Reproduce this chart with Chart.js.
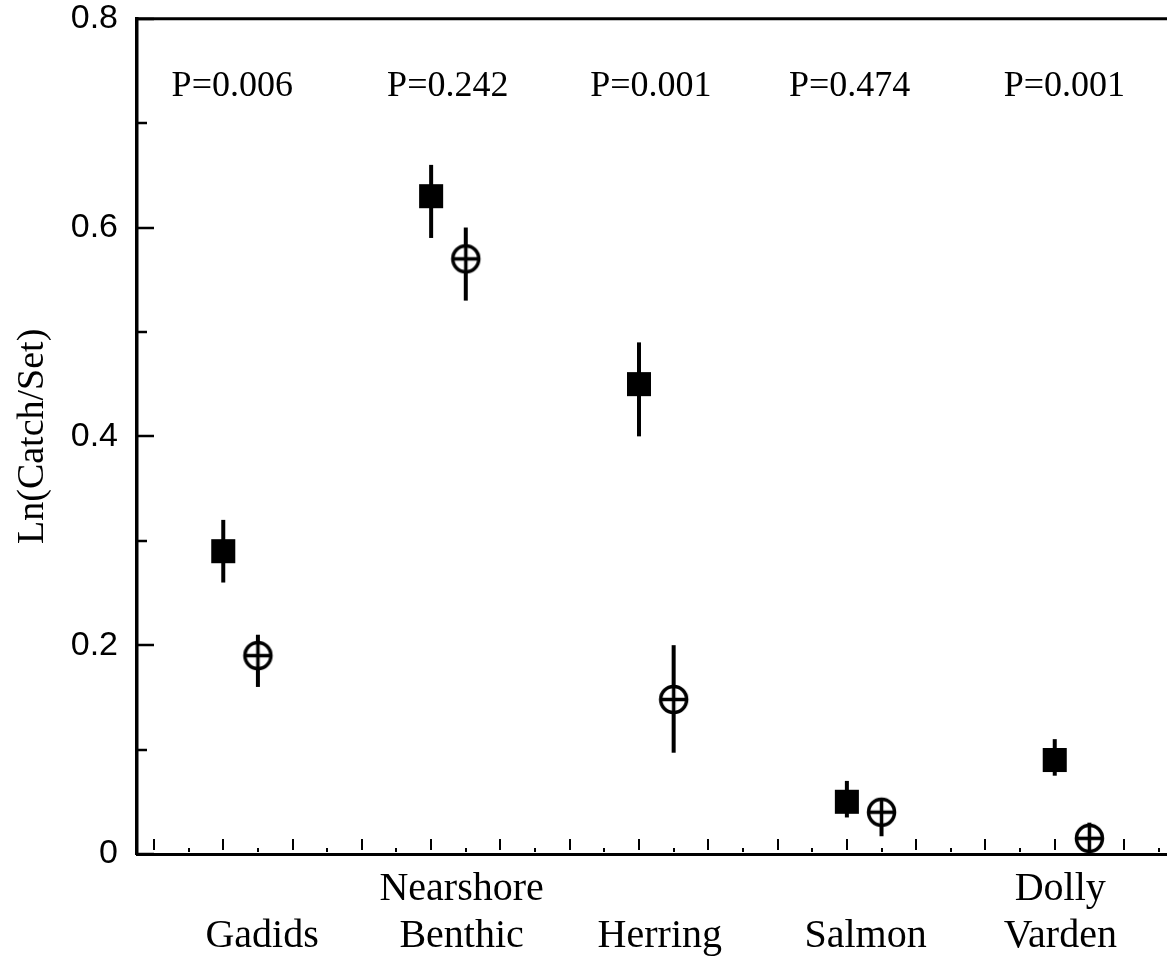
<!DOCTYPE html>
<html>
<head>
<meta charset="utf-8">
<script src="https://cdn.jsdelivr.net/npm/chart.js@4.4.1/dist/chart.umd.min.js"></script>
<style>
  html, body { margin: 0; padding: 0; background: #fff; }
  #wrap { width: 1167px; height: 968px; }
</style>
</head>
<body>
<div id="wrap"><canvas id="catch-chart" width="1167" height="968"></canvas></div>
<script>
/* ===== DATA ===== */
const categories = [['Gadids'], ['Nearshore', 'Benthic'], ['Herring'], ['Salmon'], ['Dolly', 'Varden']];
const catPos     = [1, 4, 7, 10, 13];
const pLabels    = ['P=0.006', 'P=0.242', 'P=0.001', 'P=0.474', 'P=0.001'];

// filled squares
const squareMean = [0.29, 0.63, 0.45, 0.05, 0.09];
const squareLow  = [0.26, 0.59, 0.40, 0.035, 0.075];
const squareHigh = [0.32, 0.66, 0.49, 0.07, 0.11];

// open circles with cross
const circleMean = [0.19, 0.57, 0.148, 0.04, 0.015];
const circleLow  = [0.16, 0.53, 0.097, 0.017, 0.0];
const circleHigh = [0.21, 0.60, 0.20, 0.05, 0.03];

const yTicks  = [0, 0.1, 0.2, 0.3, 0.4, 0.5, 0.6, 0.7, 0.8];
const xTicks  = [0, 0.5, 1, 1.5, 2, 2.5, 3, 3.5, 4, 4.5, 5, 5.5, 6, 6.5, 7, 7.5, 8, 8.5, 9, 9.5, 10, 10.5, 11, 11.5, 12, 12.5, 13, 13.5, 14, 14.5];

/* ===== TEXT LAYOUT ===== */
// horizontal nudges (x units) of the hand-placed texts relative to each category
const pShift   = [0.13, 0.24, 0.17, 0.04, 0.14];
const catShift = [0.56, 0.44, 0.30, 0.27, 0.08];

const SERIF = "'Liberation Serif', 'Times New Roman', serif";
const SANS  = "'Liberation Sans', Arial, sans-serif";

/* ===== MARKER ===== */
function makeCircleMarker(r, lw) {
  const size = Math.ceil((r + lw) * 2);
  const c = document.createElement('canvas');
  c.width = c.height = size;
  const g = c.getContext('2d');
  const m = size / 2;
  g.lineWidth = lw;
  g.strokeStyle = '#000';
  g.fillStyle = '#fff';
  g.beginPath(); g.arc(m, m, r, 0, Math.PI * 2); g.fill(); g.stroke();
  g.beginPath();
  g.moveTo(m - r, m); g.lineTo(m + r, m);
  g.moveTo(m, m - r); g.lineTo(m, m + r);
  g.stroke();
  return c;
}

/* ===== PLUGIN: frame, ticks, error bars, texts ===== */
const decorPlugin = {
  id: 'decor',
  beforeDatasetsDraw(chart) {
    const { ctx, scales: { x, y } } = chart;
    ctx.save();
    ctx.strokeStyle = '#000';
    ctx.lineWidth = 4;
    ctx.lineCap = 'butt';
    const bar = (xv, lo, hi) => {
      const px = x.getPixelForValue(xv);
      ctx.beginPath();
      ctx.moveTo(px, y.getPixelForValue(lo));
      ctx.lineTo(px, y.getPixelForValue(hi));
      ctx.stroke();
    };
    catPos.forEach((p, i) => {
      bar(p, squareLow[i], squareHigh[i]);
      bar(p + 0.5, circleLow[i], circleHigh[i]);
    });
    ctx.restore();
  },
  afterDraw(chart) {
    const { ctx, chartArea: a, scales: { x, y } } = chart;
    ctx.save();
    ctx.strokeStyle = '#000';
    ctx.fillStyle = '#000';

    // top frame line
    ctx.lineWidth = 3;
    ctx.beginPath();
    ctx.moveTo(a.left - 1.5, a.top);
    ctx.lineTo(a.right, a.top);
    ctx.stroke();

    // inward ticks on y axis
    ctx.lineWidth = 2.5;
    yTicks.forEach((v, i) => {
      const py = Math.round(y.getPixelForValue(v));
      const len = i % 2 === 0 ? 17 : 10;
      ctx.beginPath();
      ctx.moveTo(a.left, py);
      ctx.lineTo(a.left + len, py);
      ctx.stroke();
    });

    // small upward ticks on x axis
    ctx.lineWidth = 2;
    xTicks.forEach(v => {
      const px = Math.round(x.getPixelForValue(v));
      const major = Number.isInteger(v);
      ctx.beginPath();
      ctx.moveTo(px, a.bottom - (major ? 15 : 6));
      ctx.lineTo(px, a.bottom - (major ? 4 : 2));
      ctx.stroke();
    });

    // P values
    ctx.font = '36px ' + SERIF;
    ctx.textAlign = 'center';
    ctx.textBaseline = 'alphabetic';
    catPos.forEach((p, i) => {
      ctx.fillText(pLabels[i], x.getPixelForValue(p + pShift[i]), 96);
    });

    // category names under the axis
    ctx.font = '40px ' + SERIF;
    catPos.forEach((p, i) => {
      const lines = categories[i];
      const px = x.getPixelForValue(p + catShift[i]);
      const base = 947;
      lines.slice().reverse().forEach((t, k) => ctx.fillText(t, px, base - k * 47));
    });
    ctx.restore();
  }
};

/* ===== CHART ===== */
const circleMarker = makeCircleMarker(13, 3.5);

new Chart(document.getElementById('catch-chart'), {
  type: 'scatter',
  data: {
    datasets: [
      {
        data: catPos.map((p, i) => ({ x: p, y: squareMean[i] })),
        pointStyle: 'rect',
        pointRadius: 17,
        pointHoverRadius: 17,
        backgroundColor: '#000',
        borderColor: '#000',
        borderWidth: 0,
        clip: false
      },
      {
        data: catPos.map((p, i) => ({ x: p + 0.5, y: circleMean[i] })),
        pointStyle: circleMarker,
        pointRadius: 15,
        clip: false
      }
    ]
  },
  options: {
    responsive: false,
    animation: false,
    devicePixelRatio: 1,
    layout: { autoPadding: false, padding: { top: 0, right: 0, bottom: 0, left: 0 } },
    plugins: { legend: { display: false }, tooltip: { enabled: false } },
    scales: {
      x: {
        type: 'linear',
        min: -0.245,
        max: 14.62,
        grid: { display: false, drawTicks: false },
        border: { display: true, color: '#000', width: 3 },
        ticks: { display: false },
        afterFit: s => { s.height = 114; }
      },
      y: {
        min: 0,
        max: 0.8,
        // tickLength only reserves the gap between labels and axis; the marks are drawn by the plugin
        grid: { display: false, drawTicks: true, tickLength: 19 },
        border: { display: true, color: '#000', width: 3.5 },
        ticks: { stepSize: 0.2, padding: 0, color: '#000', font: { family: SANS, size: 34, lineHeight: 1.1 } },
        title: {
          display: true,
          text: 'Ln(Catch/Set)',
          color: '#000',
          font: { family: SERIF, size: 38 },
          padding: { top: 10, bottom: 0 }
        },
        afterFit: s => { s.width = 137; }
      }
    }
  },
  plugins: [decorPlugin]
});
</script>
</body>
</html>
